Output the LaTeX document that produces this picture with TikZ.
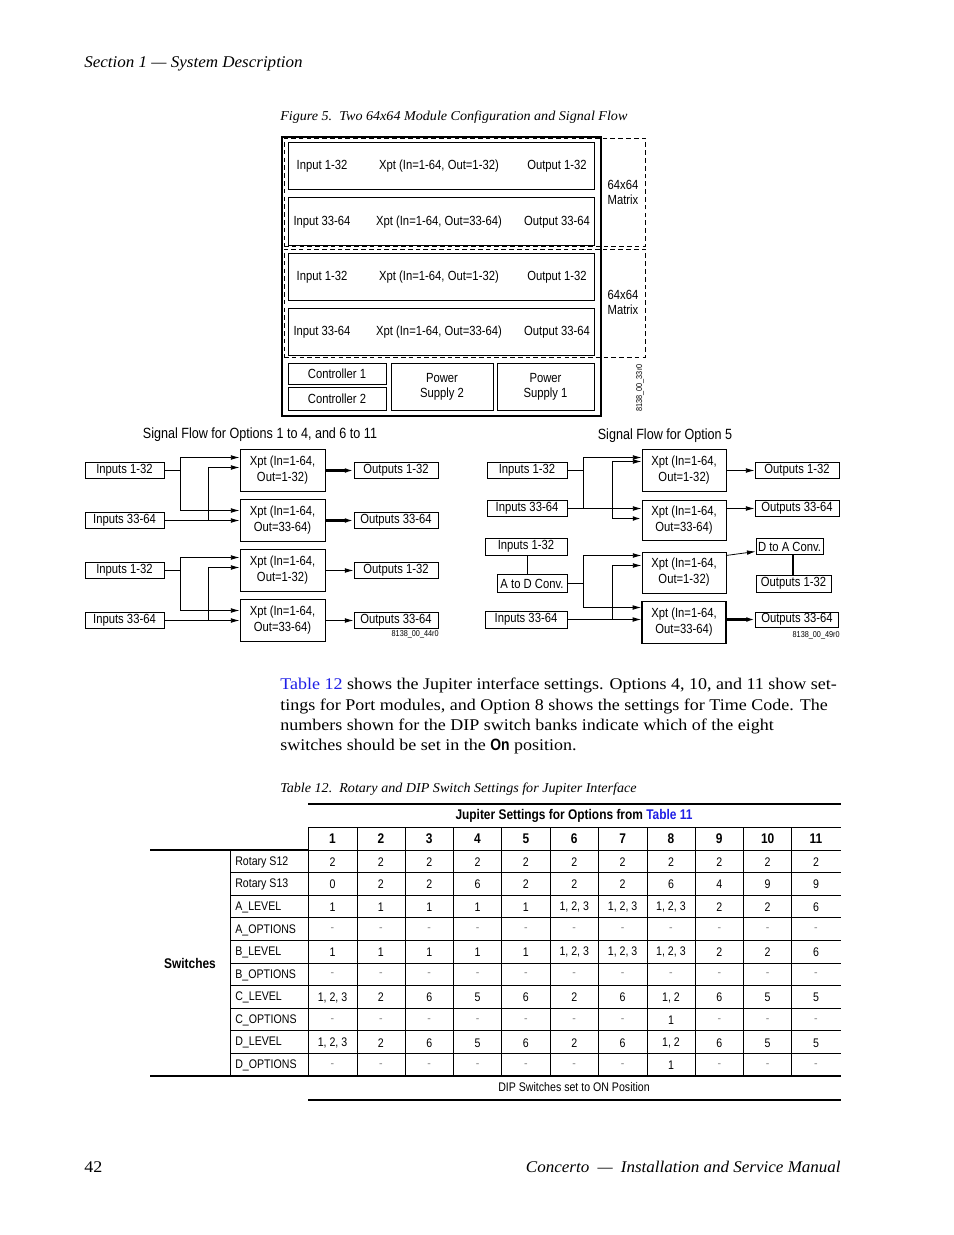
\documentclass[tikz,border=0pt]{standalone}
\usepackage{fontspec}
\setmainfont{Liberation Serif}[FakeStretch=1.1, ItalicFeatures={FakeStretch=1.04}]
\newfontfamily\cnd{Liberation Sans}[FakeStretch=0.85]
\usetikzlibrary{arrows.meta,calc}
\definecolor{linkblue}{RGB}{30,30,230}
\newcommand\U{0.6415pt}
\newcommand\dd{\textcolor{black!45}{-}}
\begin{document}
\begin{tikzpicture}[x=0.6415pt,y=-0.6415pt,
  every node/.style={inner sep=0pt},
  bx/.style 2 args={draw, line width=0.6pt, minimum width=#1*\U, minimum height=#2*\U, font=\cnd\fontsize{8.5}{10.3}\selectfont, align=center},
  lbl/.style={font=\cnd\fontsize{8.5}{10.3}\selectfont, align=center},
  ttl/.style={font=\cnd\fontsize{9.5}{11}\selectfont},
  idtxt/.style={font=\cnd\fontsize{5.5}{6}\selectfont},
  arr/.style={-{Latex[length=5.5pt,width=3pt]}, line width=0.5pt},
  ln/.style={line width=0.5pt},
  dbox/.style={draw, line width=0.5pt, dash pattern=on 3pt off 2pt},
  tv/.style={font=\cnd\fontsize{8}{9}\selectfont},
  th/.style={font=\cnd\bfseries\fontsize{9}{10}\selectfont},
  ser/.style={font=\fontsize{10.5}{13}\selectfont},
  seri/.style={font=\itshape\fontsize{10.5}{13}\selectfont},
  capi/.style={font=\itshape\fontsize{8.7}{11}\selectfont},
]
\path[fill=white] (0,0) rectangle (954,1235);
\useasboundingbox (0,0) rectangle (954,1235);

% ---------- page header ----------
\node[seri, anchor=base west] (hdr) at (84,67) {Section 1 --- System Description};
\node[capi, anchor=base west] (figcap) at (280,120) {Figure 5.\ \ Two 64x64 Module Configuration and Signal Flow};

% ---------- chassis drawing ----------
\node[draw, line width=0.7pt, minimum width=319*\U, minimum height=279*\U] (chassis) at (441.5,276.5) {};
\node[dbox, minimum width=361*\U, minimum height=108*\U] (mat1) at (464.5,192) {};
\node[dbox, minimum width=361*\U, minimum height=108*\U] (mat2) at (464.5,303) {};
\foreach \n/\y/\h/\a/\b in {1/165.5/47/1/32, 2/221/48/33/64, 3/276.5/47/1/32, 4/331.5/47/33/64} {
  \node[bx={306}{\h}] (bb\n) at (441,\y) {};
  \node[lbl] (bi\n) at (322,\y+1) {Input \a-\b};
  \node[lbl] (bx\n) at (439,\y+1) {Xpt (In=1-64, Out=\a-\b)};
  \node[lbl] (bo\n) at (557,\y+1) {Output \a-\b};
}
\node[lbl, font=\cnd\fontsize{8.5}{9.6}\selectfont] (m1) at (623,192.5) {64x64\\Matrix};
\node[lbl, font=\cnd\fontsize{8.5}{9.6}\selectfont] (m2) at (623,302.5) {64x64\\Matrix};
\node[bx={98}{21}] (ctl1) at (337,373.5) {Controller 1};
\node[bx={98}{23}] (ctl2) at (337,398.5) {Controller 2};
\node[bx={102}{47}, font=\cnd\fontsize{8.5}{9.6}\selectfont] (ps2) at (442,386.5) {Power\\Supply 2};
\node[bx={97}{47}, font=\cnd\fontsize{8.5}{9.6}\selectfont] (ps1) at (545.5,386.5) {Power\\Supply 1};
\node[idtxt, rotate=90] (id1) at (640,388) {8138\_00\_33r0};

% ---------- signal flow titles ----------
\node[ttl] (t1) at (260,434.5) {Signal Flow for Options 1 to 4, and 6 to 11};
\node[ttl] (t2) at (665,435.5) {Signal Flow for Option 5};

% ---------- left signal flow ----------
\foreach \g/\ca/\cb/\lw in {1/470.5/520.5/1.3pt, 2/570.5/620.5/0.6pt} {
  \node[bx={79}{16}] (li1\g) at (124.5,\ca) {Inputs 1-32};
  \node[bx={79}{16}] (li2\g) at (124.5,\cb) {Inputs 33-64};
  \node[bx={85}{42}] (lx1\g) at (282.5,\ca) {Xpt (In=1-64,\\Out=1-32)};
  \node[bx={85}{42}] (lx2\g) at (282.5,\cb) {Xpt (In=1-64,\\Out=33-64)};
  \node[bx={84}{16}] (lo1\g) at (396,\ca) {Outputs 1-32};
  \node[bx={84}{16}] (lo2\g) at (396,\cb) {Outputs 33-64};
  \coordinate (la\g) at (180,\ca-13);
  \coordinate (lb\g) at (180,\cb-10);
  \coordinate (lc\g) at (208,\ca-3);
  \coordinate (ld\g) at (208,\cb);
  \draw[ln] (li1\g.east) -- (li1\g.east -| la\g);
  \draw[ln] (la\g) -- (lb\g);
  \draw[arr] (la\g) -- (la\g -| lx1\g.west);
  \draw[arr] (lb\g) -- (lb\g -| lx2\g.west);
  \draw[ln] (lc\g) -- (ld\g);
  \draw[arr] (lc\g) -- (lc\g -| lx1\g.west);
  \draw[arr] (li2\g) -- (lx2\g);
  \draw[arr, line width=\lw] (lx1\g) -- (lo1\g);
  \draw[arr, line width=\lw] (lx2\g) -- (lo2\g);
}
\node[idtxt, anchor=east] (id2) at (439,634.5) {8138\_00\_44r0};

% ---------- right signal flow ----------
\node[bx={80}{16}] (ri1) at (527,470.5) {Inputs 1-32};
\node[bx={80}{16}] (ri2) at (527,508.5) {Inputs 33-64};
\node[bx={82}{17}] (ri3) at (526,546.5) {Inputs 1-32};
\node[bx={70}{18}] (rad) at (532,583.5) {A to D Conv.};
\node[bx={82}{17}] (ri4) at (526,619.5) {Inputs 33-64};
\node[bx={84}{42}] (rx1) at (684,470.5) {Xpt (In=1-64,\\Out=1-32)};
\node[bx={84}{40}] (rx2) at (684,520.5) {Xpt (In=1-64,\\Out=33-64)};
\node[bx={84}{41}] (rx3) at (684,572.5) {Xpt (In=1-64,\\Out=1-32)};
\node[bx={84}{42}, line width=1pt] (rx4) at (684,622.5) {Xpt (In=1-64,\\Out=33-64)};
\node[bx={84}{16}] (ro1) at (797,470.5) {Outputs 1-32};
\node[bx={84}{16}] (ro2) at (797,508.5) {Outputs 33-64};
\node[bx={67}{16}] (rda) at (789.5,546.5) {D to A Conv.};
\node[bx={75}{17}] (ro3) at (793.5,583.5) {Outputs 1-32};
\node[bx={83}{15}] (ro4) at (797,619.5) {Outputs 33-64};
\node[idtxt, anchor=east] (id3) at (840,635.5) {8138\_00\_49r0};

\coordinate (ra) at (583,457.5);
\coordinate (rb) at (583,508.5);
\coordinate (rc) at (612,461.5);
\coordinate (rd) at (612,518.5);
\draw[ln] (ri1.east) -- (ri1.east -| ra);
\draw[ln] (ra) -- (rb);
\draw[arr] (ra) -- (ra -| rx1.west);
\draw[arr] (ri2.east) -- (ri2.east -| rx2.west);
\draw[ln] (rc) -- (rd);
\draw[arr] (rc) -- (rc -| rx1.west);
\draw[arr, line width=1.1pt] (rd) -- (rd -| rx2.west);
\draw[arr] (rx1) -- (ro1);
\draw[arr] (rx2.east |- ro2) -- (ro2.west);

\coordinate (re) at (583,555.5);
\coordinate (rf) at (583,607.5);
\coordinate (rg) at (612,565.5);
\coordinate (rh) at (612,619.5);
\coordinate (rs) at (726,555.5);
\draw[ln] (ri3.south -| 527,0) -- (rad.north -| 527,0);
\draw[ln] (rad.east) -- (rad.east -| re);
\draw[ln] (re) -- (rf);
\draw[arr] (re) -- (re -| rx3.west);
\draw[arr] (rf) -- (rf -| rx4.west);
\draw[ln] (rg) -- (rh);
\draw[arr] (rg) -- (rg -| rx3.west);
\draw[arr] (ri4.east) -- (ri4.east -| rx4.west);
\draw[arr] (rs) -- ([yshift=-3.2pt]rda.west);
\draw[line width=1.3pt] (rda.south -| 793,0) -- (ro3.north -| 793,0);
\draw[arr, line width=1.3pt] (rx4.east |- ro4) -- (ro4.west);

% ---------- paragraph ----------
\node[ser, anchor=base west] (p1) at (280,689.5) {\textcolor{linkblue}{Table 12} shows the Jupiter interface settings. Options 4, 10, and 11 show set-};
\node[ser, anchor=base west] (p2) at (280,710) {tings for Port modules, and Option 8 shows the settings for Time Code. The};
\node[ser, anchor=base west] (p3) at (280,730.5) {numbers shown for the DIP switch banks indicate which of the eight};
\node[ser, anchor=base west] (p4) at (280,750.5) {switches should be set in the {\cnd\bfseries On} position.};

\node[capi, anchor=base west] (tcap) at (280,792.5) {Table 12.\ \ Rotary and DIP Switch Settings for Jupiter Interface};

% ---------- table ----------
\draw[line width=1.3pt] (308,804) -- (841,804);
\draw[line width=0.5pt] (308,827) -- (841,827);
\draw[line width=1.5pt] (150,850) -- (308,850);
\draw[line width=0.5pt] (308,850) -- (841,850);
\foreach \k in {1,...,9} \draw[line width=0.5pt] (230,850+22.6*\k) -- (841,850+22.6*\k);
\draw[line width=0.8pt] (150,1076) -- (841,1076);
\draw[line width=0.8pt] (308,1100) -- (841,1100);
\draw[line width=0.5pt] (230,850) -- (230,1076);
\foreach \xx in {308,357,405,453,501,550,598,647,695,743,791} \draw[line width=0.5pt] (\xx,827) -- (\xx,1076);

\node[th] (thead) at (574,815.5) {Jupiter Settings for Options from \textcolor{linkblue}{Table 11}};
\foreach \i in {1,...,11} \node[th] (hn\i) at ({284.15+48.35*\i},839) {\i};
\node[th] (sw) at (190,963.5) {Switches};

\foreach \lab [count=\r] in {Rotary S12,Rotary S13,A\_LEVEL,A\_OPTIONS,B\_LEVEL,B\_OPTIONS,C\_LEVEL,C\_OPTIONS,D\_LEVEL,D\_OPTIONS}
  \node[tv, anchor=west] (rl\r) at (235,839.5+22.6*\r) {\lab};

\foreach \v [count=\i] in {2,2,2,2,2,2,2,2,2,2,2} \node[tv] (ca\i) at ({284.15+48.35*\i},862) {\v};
\foreach \v [count=\i] in {0,2,2,6,2,2,2,6,4,9,9} \node[tv] (cb\i) at ({284.15+48.35*\i},884.6) {\v};
\foreach \v [count=\i] in {1,1,1,1,1,{1, 2, 3},{1, 2, 3},{1, 2, 3},2,2,6} \node[tv] (cc\i) at ({284.15+48.35*\i},907.2) {\v};
\foreach \i in {1,...,11} \node[tv] (cd\i) at ({284.15+48.35*\i},929.8) {\dd};
\foreach \v [count=\i] in {1,1,1,1,1,{1, 2, 3},{1, 2, 3},{1, 2, 3},2,2,6} \node[tv] (ce\i) at ({284.15+48.35*\i},952.4) {\v};
\foreach \i in {1,...,11} \node[tv] (cf\i) at ({284.15+48.35*\i},975) {\dd};
\foreach \v [count=\i] in {{1, 2, 3},2,6,5,6,2,6,{1, 2},6,5,5} \node[tv] (cg\i) at ({284.15+48.35*\i},997.6) {\v};
\foreach \v [count=\i] in {\dd,\dd,\dd,\dd,\dd,\dd,\dd,1,\dd,\dd,\dd} \node[tv] (ch\i) at ({284.15+48.35*\i},1020.2) {\v};
\foreach \v [count=\i] in {{1, 2, 3},2,6,5,6,2,6,{1, 2},6,5,5} \node[tv] (ci\i) at ({284.15+48.35*\i},1042.8) {\v};
\foreach \v [count=\i] in {\dd,\dd,\dd,\dd,\dd,\dd,\dd,1,\dd,\dd,\dd} \node[tv] (cj\i) at ({284.15+48.35*\i},1065.4) {\v};

\node[tv] (dip) at (574,1087.5) {DIP Switches set to ON Position};

% ---------- footer ----------
\node[ser, anchor=base west] (pg) at (84,1172) {42};
\node[seri, anchor=base east] (ft) at (841,1172) {Concerto\enspace---\enspace Installation and Service Manual};
\end{tikzpicture}
\end{document}
